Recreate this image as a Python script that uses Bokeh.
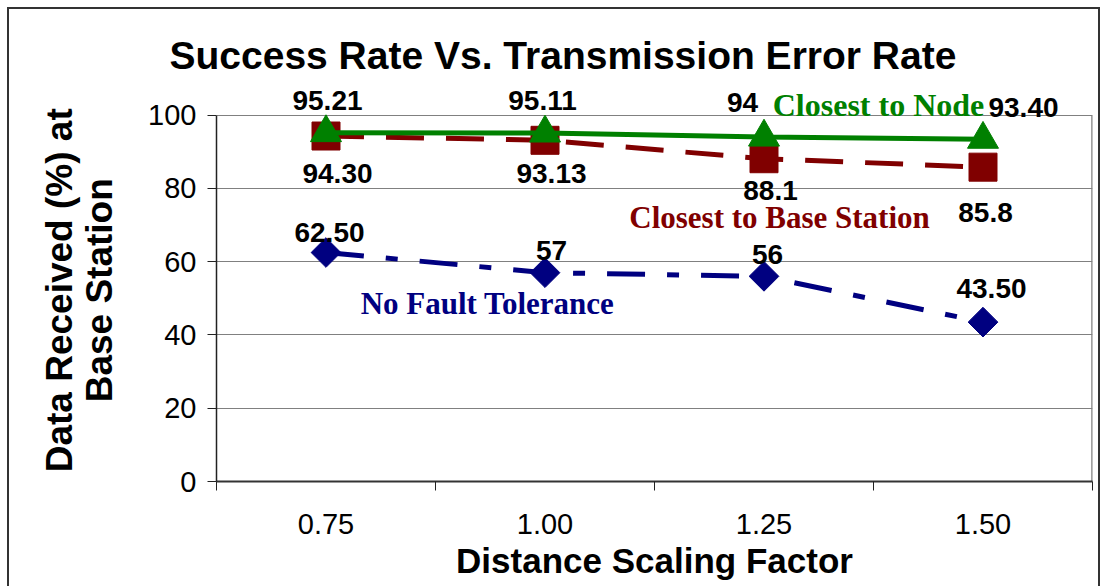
import math
from bokeh.plotting import figure
from bokeh.models import FixedTicker, ColumnDataSource, LabelSet, Label
from bokeh.layouts import column
from bokeh.embed import file_html
from bokeh.resources import INLINE
from bokeh.core.properties import value

# ---------------- data ----------------
categories = ["0.75", "1.00", "1.25", "1.50"]
closest_node = [95.21, 95.11, 94, 93.40]
closest_base = [94.30, 93.13, 88.1, 85.8]
no_fault = [62.50, 57, 56, 43.50]
node_labels = ["95.21", "95.11", "94", "93.40"]
base_labels = ["94.30", "93.13", "88.1", "85.8"]
nofault_labels = ["62.50", "57", "56", "43.50"]
y_ticks = [0, 20, 40, 60, 80, 100]

TITLE = "Success Rate Vs. Transmission Error Rate"
X_LABEL = "Distance Scaling Factor"
Y_LABEL_LINES = ["Data Received (%) at", "Base Station"]

# ---------------- layout (screen-pixel offsets of labels, + = right / up) ----------------
node_dx = [1.5, -2.5, -21.5, 40.5]
node_dy = [32.5, 33, 35, 32]
base_dx = [11.5, 6.5, 6.5, 2.5]
base_dy = [-37, -33, -31.5, -45]
nf_dx = [3.5, 6.5, 3.5, 8.5]
nf_dy = [20, 22, 22, 34]
Y_HEADROOM = 110   # extra room above the 100 line so the labels above it are not clipped
PAD = "\u00a0\u00a0"  # keeps the y label centred on the 0..100 part of the axis

GREEN = "#008000"
RED = "#800000"
NAVY = "#000080"
GRID = "#808080"
SANS = "Liberation Sans"
SERIF = "Liberation Serif"

xs = list(range(len(categories)))
x_lo, x_hi = -0.5, len(categories) - 0.5

p = figure(width=1089, height=577,
           x_range=(x_lo, x_hi), y_range=(0, Y_HEADROOM),
           output_backend="svg", toolbar_location=None, title=TITLE,
           min_border_left=207, min_border_right=6,
           min_border_top=69, min_border_bottom=105)
p.background_fill_color = "white"
p.border_fill_color = "white"
p.outline_line_color = None

# title
p.title.align = "left"
p.title.offset = -47
p.title.standoff = 4
p.title.text_font = SANS
p.title.text_font_size = "39px"
p.title.text_font_style = "bold"
p.title.text_color = "black"

# x axis
p.xaxis.ticker = FixedTicker(ticks=xs, minor_ticks=[i - 0.5 for i in range(len(categories) + 1)])
p.xaxis.major_label_overrides = {i: c for i, c in enumerate(categories)}
p.xaxis.major_tick_line_color = None
p.xaxis.major_tick_out = 0
p.xaxis.major_tick_in = 0
p.xaxis.minor_tick_out = 9
p.xaxis.minor_tick_in = 0
p.xaxis.minor_tick_line_color = "#222222"
p.xaxis.axis_line_color = "#333333"
p.xaxis.axis_line_width = 2
p.xaxis.major_label_standoff = 23
p.xaxis.major_label_text_font = SANS
p.xaxis.major_label_text_font_size = "29px"
p.xaxis.major_label_text_color = "black"
p.xaxis.axis_label = X_LABEL
p.xaxis.axis_label_text_font = SANS
p.xaxis.axis_label_text_font_size = "35px"
p.xaxis.axis_label_text_font_style = "bold"
p.xaxis.axis_label_text_color = "black"
p.xaxis.axis_label_standoff = 4

# y axis
p.yaxis.ticker = FixedTicker(ticks=y_ticks)
p.yaxis.bounds = (y_ticks[0], y_ticks[-1])
p.yaxis.minor_tick_line_color = None
p.yaxis.major_tick_out = 9
p.yaxis.major_tick_in = 0
p.yaxis.major_tick_line_color = "#222222"
p.yaxis.axis_line_color = "#222222"
p.yaxis.axis_line_width = 1.5
p.yaxis.major_label_standoff = 11
p.yaxis.major_label_text_font = SANS
p.yaxis.major_label_text_font_size = "29px"
p.yaxis.major_label_text_color = "black"
p.yaxis.axis_label = "\n".join(line + PAD for line in Y_LABEL_LINES)
p.yaxis.axis_label_text_font = SANS
p.yaxis.axis_label_text_font_size = "37px"
p.yaxis.axis_label_text_font_style = "bold"
p.yaxis.axis_label_text_color = "black"
p.yaxis.axis_label_text_line_height = 0.99
p.yaxis.axis_label_standoff = 25

p.xgrid.grid_line_color = None
p.ygrid.ticker = FixedTicker(ticks=y_ticks)
p.ygrid.grid_line_color = GRID
p.ygrid.grid_line_width = 1.2

# right edge of the plot area (0 .. 100)
p.segment(x0=[x_hi], y0=[y_ticks[0]], x1=[x_hi], y1=[y_ticks[-1]],
          line_color=GRID, line_width=2.5)

# ---------------- series ----------------
src_nf = ColumnDataSource(dict(x=xs, y=no_fault, t=nofault_labels, dx=nf_dx, dy=nf_dy))
src_base = ColumnDataSource(dict(x=xs, y=closest_base, t=base_labels, dx=base_dx, dy=base_dy))
src_node = ColumnDataSource(dict(x=xs, y=closest_node, t=node_labels, dx=node_dx, dy=node_dy))

p.line("x", "y", source=src_nf, line_color=NAVY, line_width=5, line_dash="38 22 12 22")
p.scatter("x", "y", source=src_nf, marker="square", angle=math.pi / 4, size=21,
          fill_color=NAVY, line_color=NAVY)

p.line("x", "y", source=src_base, line_color=RED, line_width=5, line_dash="38 22")
p.scatter("x", "y", source=src_base, marker="square", size=28,
          fill_color=RED, line_color=RED)

p.line("x", "y", source=src_node, line_color=GREEN, line_width=5)
p.scatter("x", "y", source=src_node, marker="triangle", size=31,
          fill_color=GREEN, line_color=GREEN)

for src in (src_nf, src_base, src_node):
    p.add_layout(LabelSet(x="x", y="y", text="t", source=src, x_offset="dx", y_offset="dy",
                          text_font=value(SANS), text_font_size="28px", text_font_style="bold",
                          text_color="black", text_align="center", text_baseline="middle"))

# series names, anchored to a data point of each series
p.add_layout(Label(x=xs[2], y=closest_node[2], text="Closest to Node", x_offset=114.5, y_offset=32,
                   text_font=SERIF, text_font_size="32px", text_font_style="bold",
                   text_color=GREEN, text_align="center", text_baseline="middle"))
p.add_layout(Label(x=xs[2], y=closest_base[2], text="Closest to Base Station", x_offset=15.5, y_offset=-58.5,
                   text_font=SERIF, text_font_size="31px", text_font_style="bold",
                   text_color=RED, text_align="center", text_baseline="middle"))
p.add_layout(Label(x=xs[1], y=no_fault[1], text="No Fault Tolerance", x_offset=-57.5, y_offset=-30.5,
                   text_font=SERIF, text_font_size="31px", text_font_style="bold",
                   text_color=NAVY, text_align="center", text_baseline="middle"))

layout = column(p, styles={"margin-left": "7px", "margin-top": "7px",
                           "border-left": "2px solid #333",
                           "border-top": "2px solid #333",
                           "border-right": "2px solid #333"})

open("out.html", "w").write(file_html(layout, INLINE))
